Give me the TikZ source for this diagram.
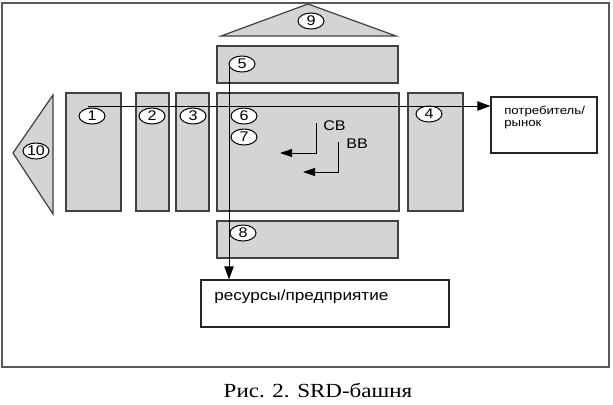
\documentclass[tikz,border=0pt]{standalone}
\usepackage{fontspec}
\setmainfont{Liberation Sans}[FakeStretch=1.15]
\newfontfamily\capfont{Liberation Serif}[FakeStretch=1.15]
\usepackage{tikz}
\usetikzlibrary{arrows.meta, calc, shapes.geometric}

\begin{document}
\begin{tikzpicture}[x=0.75pt, y=-0.75pt,
    bar/.style={rectangle, draw=black!75, fill=black!17, line width=0.9pt, inner sep=0pt},
    roof/.style={draw=black!75, fill=black!17, line width=0.9pt},
    outbox/.style={rectangle, draw=black!85, fill=white, line width=0.9pt, inner sep=0pt},
    num/.style={ellipse, draw, fill=white, line width=0.75pt, minimum width=19.5pt,
      minimum height=12pt, inner sep=0pt, font=\fontsize{10.5}{11}\selectfont},
    flow/.style={-{Triangle[length=9.75pt, width=7pt]}, line width=0.75pt},
    turn/.style={-{Triangle[length=9pt, width=6pt]}, line width=0.75pt}
  ]
    \useasboundingbox (0,0) rectangle (613,404);
    \draw[black!65, line width=1.2pt] (2,3) rectangle (609,367);

    % roofs
    \draw[roof] (308,4) -- (396,36) -- (221,36) -- cycle;
    \draw[roof] (53,95) -- (53,214) -- (13,153) -- cycle;

    % tower parts
    \node[bar, minimum width=135.75pt, minimum height=27.75pt] (top) at (307.5,64.5) {};
    \node[bar, minimum width=41.25pt, minimum height=88.5pt] (col1) at (93.5,152) {};
    \node[bar, minimum width=24.75pt, minimum height=88.5pt] (col2) at (152.5,152) {};
    \node[bar, minimum width=24.75pt, minimum height=88.5pt] (col3) at (192.5,152) {};
    \node[bar, minimum width=136.5pt, minimum height=88.5pt] (core) at (308,152) {};
    \node[bar, minimum width=41.25pt, minimum height=88.5pt] (col4) at (435.5,152) {};
    \node[bar, minimum width=135.75pt, minimum height=27.75pt] (base) at (307.5,239.5) {};

    % outside boxes
    \node[outbox, minimum width=79.5pt, minimum height=42pt] (market) at (544,125) {};
    \node[outbox, minimum width=186pt, minimum height=35.25pt] (res) at (325,303.5) {};
    \node[anchor=north west, align=left, inner sep=0pt,
      font=\fontsize{8.6}{9}\selectfont] (markettext) at (504,106) {потребитель/\\рынок};
    \node[anchor=base west, inner sep=0pt,
      font=\fontsize{11.2}{13}\selectfont] (restext) at (214,300) {ресурсы/предприятие};

    % numbers
    \node[num] (n1) at (92,116) {1};
    \node[num] (n2) at (152,116) {2};
    \node[num] (n3) at (193,116) {3};
    \node[num] (n4) at (429,114) {4};
    \node[num] (n5) at (242,64) {5};
    \node[num] (n6) at (244,116) {6};
    \node[num] (n7) at (244,137) {7};
    \node[num] (n8) at (243,233) {8};
    \node[num] (n9) at (311,21) {9};
    \node[num] (n10) at (36,151) {10};

    % flows
    \coordinate (hstart) at (88,106);
    \coordinate (vstart) at (229,65);
    \draw[flow] (hstart) -- (hstart -| market.west);
    \draw[flow] (vstart) -- (vstart |- res.north);

    \node[anchor=base west, inner sep=0pt, font=\fontsize{10.5}{12}\selectfont] (cb) at (323,130) {СВ};
    \node[anchor=base west, inner sep=0pt, font=\fontsize{10.5}{12}\selectfont] (bb) at (346,148) {ВВ};
    \coordinate (cbtop) at (316,123);
    \coordinate (cbend) at (280,153);
    \coordinate (bbtop) at (338,142);
    \coordinate (bbend) at (303,172);
    \draw[turn] (cbtop) |- (cbend);
    \draw[turn] (bbtop) |- (bbend);

    \node[anchor=base, inner sep=0pt, font=\capfont\fontsize{15}{17}\selectfont] (caption) at (318,397) {Рис. 2. SRD-башня};
\end{tikzpicture}
\end{document}
